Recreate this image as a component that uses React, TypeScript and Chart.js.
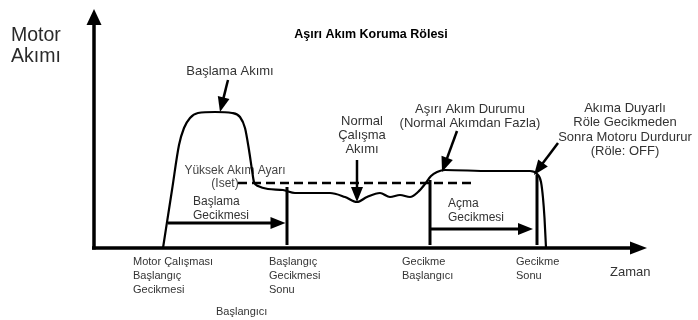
import React, { useEffect, useRef } from "react";
import { Chart, registerables } from "chart.js";

Chart.register(...registerables);

// Motor current curve (time units, current units; current 0 = time axis)
const curveTime = [163, 172, 179, 184, 190, 198, 215, 232, 240, 245, 249, 252, 254, 258, 268, 283, 295, 313, 330, 345, 357, 367, 380, 390, 400, 410, 418, 425, 431, 437, 445, 490, 530, 537, 541, 543, 544.5, 546];
const curveCurrent = [0, 58, 103, 120, 130, 135, 136, 135, 131, 120, 98, 78, 66, 62, 59, 58, 55, 55, 55, 51, 46, 51, 55, 51, 53, 51, 56, 64, 72, 76, 78, 77, 77, 74, 66, 50, 30, 0];

// High current setting (Iset)
const isetTime = [238, 472];
const isetLevel = 65;

// Event markers on the time axis
const markerTime = [287, 430, 537];
const markerTop = [61, 68, 73];
const markerBottom = 3;

// Delay intervals
const startDelayTime = [168, 287];
const startDelayLevel = 25;
const tripDelayTime = [430, 533];
const tripDelayLevel = 19;

// Axes extents
const timeAxisEnd = 647;
const currentAxisEnd = 239;

// Annotation pointers: [fromTime, fromCurrent, toTime, toCurrent]
const pointerStartCurrent = [228, 168, 220, 136];
const pointerNormal = [357, 88, 357, 46];
const pointerOvercurrent = [457, 117, 442, 76];
const pointerTrip = [558, 105, 534, 73];

const FONT = '"Liberation Sans", Arial, Helvetica, sans-serif';

type TextItem = { lines: string[]; x: number; y: number; align: CanvasTextAlign; size: number; lh: number; bold?: boolean; color?: string };

const texts: TextItem[] = [
  { lines: ["Motor", "Akımı"], x: 11, y: 36, align: "left", size: 19.5, lh: 20.5, color: "#2a2a2a" },
  { lines: ["Aşırı Akım Koruma Rölesi"], x: 371, y: 35, align: "center", size: 12.5, lh: 13, bold: true, color: "#000" },
  { lines: ["Başlama Akımı"], x: 230, y: 71, align: "center", size: 13, lh: 14 },
  { lines: ["Normal", "Çalışma", "Akımı"], x: 362, y: 121, align: "center", size: 13, lh: 14 },
  { lines: ["Aşırı Akım Durumu", "(Normal Akımdan Fazla)"], x: 470, y: 109, align: "center", size: 13, lh: 14.5 },
  { lines: ["Akıma Duyarlı", "Röle Gecikmeden", "Sonra Motoru Durdurur", "(Röle: OFF)"], x: 625, y: 108, align: "center", size: 13, lh: 14.5 },
  { lines: ["Yüksek Akım Ayarı"], x: 235, y: 171, align: "center", size: 12, lh: 13, color: "#444" },
  { lines: ["(Iset)"], x: 225, y: 184, align: "center", size: 12, lh: 13, color: "#444" },
  { lines: ["Başlama", "Gecikmesi"], x: 193, y: 202, align: "left", size: 12, lh: 13.5, color: "#333" },
  { lines: ["Açma", "Gecikmesi"], x: 448, y: 204, align: "left", size: 12, lh: 14, color: "#333" },
  { lines: ["Motor Çalışması", "Başlangıç", "Gecikmesi"], x: 133, y: 262, align: "left", size: 11, lh: 14 },
  { lines: ["Başlangıç", "Gecikmesi", "Sonu"], x: 269, y: 262, align: "left", size: 11, lh: 14 },
  { lines: ["Başlangıcı"], x: 216, y: 312, align: "left", size: 11, lh: 14 },
  { lines: ["Gecikme", "Başlangıcı"], x: 402, y: 262, align: "left", size: 11, lh: 14 },
  { lines: ["Gecikme", "Sonu"], x: 516, y: 262, align: "left", size: 11, lh: 14 },
  { lines: ["Zaman"], x: 610, y: 272, align: "left", size: 13, lh: 14, color: "#333" },
];

function arrow(ctx: CanvasRenderingContext2D, x1: number, y1: number, x2: number, y2: number, headLen: number, headHalf: number, lw: number) {
  const dx = x2 - x1, dy = y2 - y1;
  const len = Math.hypot(dx, dy);
  const ux = dx / len, uy = dy / len;
  const bx = x2 - ux * headLen, by = y2 - uy * headLen;
  ctx.save();
  ctx.strokeStyle = "#000";
  ctx.fillStyle = "#000";
  ctx.lineWidth = lw;
  ctx.lineCap = "butt";
  ctx.beginPath();
  ctx.moveTo(x1, y1);
  ctx.lineTo(bx + ux * 1, by + uy * 1);
  ctx.stroke();
  ctx.beginPath();
  ctx.moveTo(x2, y2);
  ctx.lineTo(bx - uy * headHalf, by + ux * headHalf);
  ctx.lineTo(bx + uy * headHalf, by - ux * headHalf);
  ctx.closePath();
  ctx.fill();
  ctx.restore();
}

const diagramPlugin = {
  id: "diagram",
  beforeDatasetsDraw(chart: any) {
    const ctx: CanvasRenderingContext2D = chart.ctx;
    ctx.save();
    ctx.textBaseline = "middle";
    for (const t of texts) {
      ctx.font = `${t.bold ? "bold " : ""}${t.size}px ${FONT}`;
      ctx.fillStyle = t.color || "#333";
      ctx.textAlign = t.align;
      t.lines.forEach((line, i) => ctx.fillText(line, t.x, t.y + i * t.lh));
    }
    ctx.restore();
  },
  afterDatasetsDraw(chart: any) {
    const ctx: CanvasRenderingContext2D = chart.ctx;
    const xs = chart.scales.x, ys = chart.scales.y;
    const px = (v: number) => xs.getPixelForValue(v);
    const py = (v: number) => ys.getPixelForValue(v);
    // axes
    arrow(ctx, px(94), py(-1.5), px(94), py(currentAxisEnd), 16, 7.5, 3.5);
    arrow(ctx, px(92), py(0), px(timeAxisEnd), py(0), 17, 6.5, 3.5);
    // delay arrows
    arrow(ctx, px(startDelayTime[0]), py(startDelayLevel), px(startDelayTime[1] - 1.5), py(startDelayLevel), 15, 6, 3);
    arrow(ctx, px(tripDelayTime[0]), py(tripDelayLevel), px(tripDelayTime[1]), py(tripDelayLevel), 15, 6, 3);
    // pointers
    for (const p of [pointerStartCurrent, pointerNormal, pointerOvercurrent, pointerTrip]) {
      arrow(ctx, px(p[0]), py(p[1]), px(p[2]), py(p[3]), 15, 6, 2.5);
    }
  },
};

export default function App() {
  const ref = useRef<HTMLCanvasElement | null>(null);
  useEffect(() => {
    document.body.style.margin = "0";
    const canvas = ref.current!;
    const datasets: any[] = [
      {
        data: curveTime.map((t, i) => ({ x: t, y: curveCurrent[i] })),
        borderColor: "#000",
        borderWidth: 2.2,
        showLine: true,
        cubicInterpolationMode: "monotone",
        pointRadius: 0,
      },
      {
        data: isetTime.map((t) => ({ x: t, y: isetLevel })),
        borderColor: "#000",
        borderWidth: 2.5,
        borderDash: [9, 5],
        showLine: true,
        pointRadius: 0,
      },
      ...markerTime.map((t, i) => ({
        data: [{ x: t, y: markerBottom }, { x: t, y: markerTop[i] }],
        borderColor: "#000",
        borderWidth: 3,
        showLine: true,
        pointRadius: 0,
      })),
    ];
    const chart = new Chart(canvas, {
      type: "scatter",
      data: { datasets },
      options: {
        responsive: false,
        animation: false,
        layout: { padding: 0 },
        scales: {
          x: { type: "linear", min: 0, max: 698, display: false },
          y: { type: "linear", min: -72, max: 248, display: false },
        },
        plugins: { legend: { display: false }, tooltip: { enabled: false }, title: { display: false } },
      },
      plugins: [diagramPlugin],
    } as any);
    return () => chart.destroy();
  }, []);
  return <canvas ref={ref} width={698} height={320} style={{ display: "block", background: "#fff" }} />;
}
